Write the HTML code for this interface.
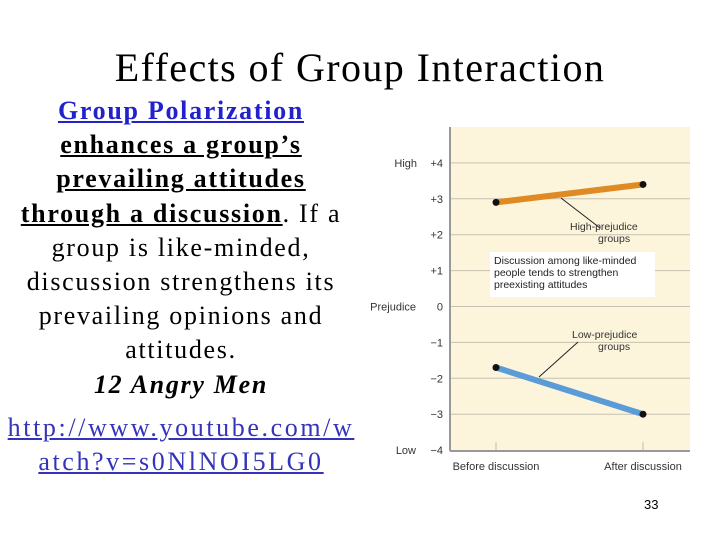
<!DOCTYPE html>
<html><head><meta charset="utf-8"><style>
body{margin:0;width:720px;height:540px;background:#fff;position:relative;overflow:hidden;font-family:"Liberation Serif",serif}
#title{position:absolute;left:0;width:720px;top:44px;text-align:center;font-size:40px;letter-spacing:1.4px;color:#000}
#body{position:absolute;left:0;width:362px;top:94px;text-align:center;font-size:26px;line-height:34.2px;letter-spacing:1.7px;color:#000;white-space:nowrap}
a{color:#2222cc}
#pg{position:absolute;left:644px;top:497px;font-size:13px;font-family:"Liberation Sans",sans-serif}
svg{position:absolute;left:0;top:0}
</style></head><body>
<div id="title">Effects of Group Interaction</div>
<div id="body"><u style="color:#2222cc"><b>Group Polarization</b></u><br><b><u>enhances a group’s</u></b><br><b><u>prevailing attitudes</u></b><br><b><u>through a discussion</u></b>. If a<br>group is like-minded,<br>discussion strengthens its<br>prevailing opinions and<br>attitudes.<br><i><b>12 Angry Men</b></i><br><span style="display:block;margin-top:9px;letter-spacing:2.6px"><a href="#" style="color:#3333bb">http://www.youtube.com/w<br>atch?v=s0NlNOI5LG0</a></span></div>
<div id="pg">33</div>
<svg id="chart" width="720" height="540"></svg>
<script>
const categories=["Before discussion","After discussion"];
const highValues=[2.9,3.4];
const lowValues=[-1.7,-3.0];
const yTicks=[4,3,2,1,0,-1,-2,-3,-4];
const yTickLabels=["+4","+3","+2","+1","0","\u22121","\u22122","\u22123","\u22124"];
const svg=document.getElementById('chart');
const NS="http://www.w3.org/2000/svg";
function y(v){return 306.5-v*35.9;}
function x(i){return 496+i*147;}
function mk(t,a,txt){const e=document.createElementNS(NS,t);for(const k in a)e.setAttribute(k,a[k]);if(txt!=null)e.textContent=txt;svg.appendChild(e);return e;}
let e;
e=mk('rect',{x:450,y:127,width:240,height:323,fill:'#fcf5dc'});

yTicks.forEach((t,i)=>{
 if(t>-4){e=mk('line',{x1:450,x2:690,y1:y(t),y2:y(t),stroke:'#c8c0b0','stroke-width':1});
 }
 e=mk('text',{x:443,y:y(t)+4,'font-size':11,'font-family':'Liberation Sans,sans-serif','text-anchor':'end',fill:'#333'},yTickLabels[i]);
 
});
e=mk('line',{x1:450,x2:450,y1:127,y2:451,stroke:'#999','stroke-width':2});

e=mk('line',{x1:450,x2:690,y1:451,y2:451,stroke:'#999','stroke-width':2});

[["High",y(4)],["Prejudice",y(0)],["Low",y(-4)]].forEach(([s,yy])=>{
 e=mk('text',{x:s=="High"?417:416,y:yy+4,'font-size':11,'font-family':'Liberation Sans,sans-serif','text-anchor':'end',fill:'#333'},s);
 
});
categories.forEach((c,i)=>{
 e=mk('line',{x1:x(i),x2:x(i),y1:y(-4)-8,y2:y(-4),stroke:'#bbb'});
 
 e=mk('text',{x:x(i),y:470,'font-size':11,'font-family':'Liberation Sans,sans-serif','text-anchor':'middle',fill:'#333'},c);
 
});
e=mk('rect',{x:490,y:252,width:165,height:45,fill:'#fff'});

["Discussion among like-minded","people tends to strengthen","preexisting attitudes"].forEach((s,i)=>{
 e=mk('text',{x:494,y:264+i*12,'font-size':10.5,'font-family':'Liberation Sans,sans-serif',fill:'#222'},s);
 
});
function series(vals,col,name){
 e=mk('line',{x1:x(0),y1:y(vals[0]),x2:x(1),y2:y(vals[1]),stroke:col,'stroke-width':6});
 
 vals.forEach((v,i)=>{e=mk('circle',{cx:x(i),cy:y(v),r:3.5,fill:'#111'});
 });
}
series(highValues,'#e08a25','high-prejudice');
series(lowValues,'#5b9bd8','low-prejudice');
e=mk('line',{x1:561,y1:198,x2:600,y2:228,stroke:'#222'});

e=mk('line',{x1:539,y1:377,x2:578,y2:342,stroke:'#222'});

[["High-prejudice",570,230],["groups",598,242],["Low-prejudice",572,338],["groups",598,350]].forEach(([s,xx,yy])=>{
 e=mk('text',{x:xx,y:yy,'font-size':10.5,'font-family':'Liberation Sans,sans-serif',fill:'#333'},s);
 
});
</script>
</body></html>
